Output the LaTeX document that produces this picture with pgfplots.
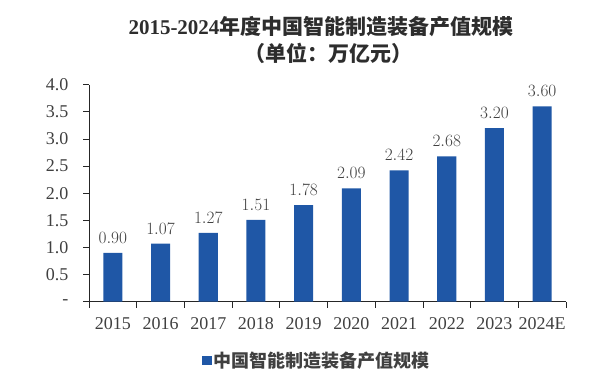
\documentclass[border=0pt]{standalone}
\usepackage{pgfplots}
\pgfplotsset{compat=1.18}
\usepackage{fontspec}
\setmainfont{Liberation Serif}
\newfontfamily\cjk{Noto Sans CJK SC}
\definecolor{barblue}{RGB}{31,87,166}
\definecolor{txt}{RGB}{64,64,64}
\definecolor{ttl}{RGB}{45,45,45}
\begin{document}
\begin{tikzpicture}
\useasboundingbox (0,0) rectangle (616pt,372pt);
\node[text=ttl,font=\fontsize{21}{25}\selectfont] at (321pt,345pt) {{\bfseries 2015-2024}{\cjk\bfseries 年度中国智能制造装备产值规模}};
\node[text=ttl,font=\fontsize{21}{25}\selectfont\cjk\bfseries] at (328pt,319pt) {（单位：万亿元）};
\begin{axis}[
  at={(89pt,70.3pt)}, anchor=south west,
  scale only axis, width=477pt, height=217pt,
  xmin=-0.5, xmax=9.5, ymin=0, ymax=4,
  axis x line*=bottom, axis y line*=left,
  axis line style={draw=black!85,line width=0.8pt},
  ybar, bar width=0.4,
  xtick={0,...,9},
  xticklabels={2015,2016,2017,2018,2019,2020,2021,2022,2023,2024E},
  minor xtick={-0.5,0.5,...,9.5},
  major x tick style={draw=none},
  minor x tick style={draw=black!85,line width=0.8pt},
  ytick={0,0.5,...,4},
  yticklabels={-,0.5,1.0,1.5,2.0,2.5,3.0,3.5,4.0},
  tick align=outside,
  major tick length=6pt, minor tick length=6pt,
  y tick style={draw=black!85,line width=0.8pt},
  tick label style={text=txt,font=\fontsize{18}{20}\selectfont},
  yticklabel style={xshift=-11pt},
  xticklabel style={yshift=-6pt},
  nodes near coords,
  nodes near coords style={text=txt,font=\fontsize{18}{20}\selectfont,yshift=6pt,
    /pgf/number format/.cd,fixed,fixed zerofill,precision=2},
  legend style={at={(0.477,-0.27)},anchor=center,draw=none,fill=none,
    font=\fontsize{18}{20}\selectfont\cjk\bfseries,text=txt,inner sep=0pt},
  legend image code/.code={\fill[barblue] (0pt,-4.5pt) rectangle (10pt,4pt);},
  clip=false,
]
\addplot[fill=barblue,draw=none] coordinates {(0,0.90) (1,1.07) (2,1.27) (3,1.51) (4,1.78) (5,2.09) (6,2.42) (7,2.68) (8,3.20) (9,3.60)};
\addlegendentry{中国智能制造装备产值规模}
\end{axis}
\end{tikzpicture}
\end{document}
